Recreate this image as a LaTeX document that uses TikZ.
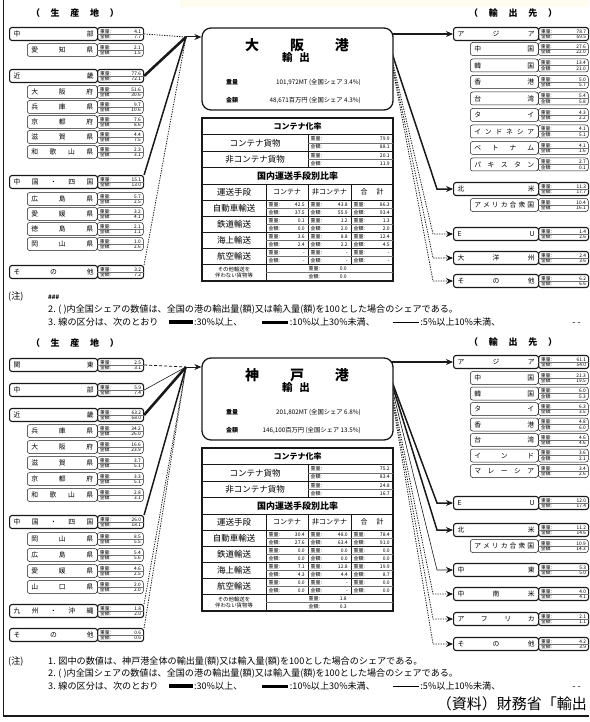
\documentclass[tikz,border=0pt]{standalone}
\usepackage{fontspec}
\setmainfont{Noto Sans CJK JP}
\usetikzlibrary{arrows.meta, positioning, calc}
\definecolor{ink}{RGB}{25,25,25}
\definecolor{rulegray}{RGB}{110,110,110}
\definecolor{paleband}{RGB}{254,252,238}
\tikzset{
  areabox/.style={rectangle, draw=ink, rounded corners=2.5pt, line width=1.1pt,
    minimum height=13pt, inner sep=0pt, font=\fontsize{6.8}{7}\selectfont},
  subbox/.style={areabox, line width=0.5pt},
  valtxt/.style={align=left, font=\fontsize{4.8}{5.6}\selectfont},
  celltxt/.style={inner sep=0pt, font=\fontsize{5}{5}\selectfont},
  rowtxt/.style={inner sep=0pt, font=\fontsize{8.5}{9}\selectfont},
  coltxt/.style={inner sep=0pt, font=\fontsize{7}{7}\selectfont},
  headtxt/.style={inner sep=0pt, font=\fontsize{8}{8}\selectfont\bfseries},
  sidetitle/.style={inner sep=0pt, font=\fontsize{9}{9}\selectfont\bfseries},
  notetxt/.style={inner sep=0pt, anchor=west, font=\fontsize{9.1}{9.5}\selectfont},
  portbox/.style={rectangle, draw=ink, fill=white, rounded corners=9pt,
    line width=1.3pt, minimum width=191pt, minimum height=82pt},
  heavy/.style={line width=2.6pt, color=ink},
  medium/.style={line width=1.5pt, color=ink},
  light/.style={line width=0.6pt, color=ink},
  faint/.style={line width=0.8pt, color=ink, dash pattern=on 1.3pt off 1.2pt},
  dashy/.style={line width=0.8pt, color=ink, dash pattern=on 3pt off 2pt},
  arrowtip/.style={-{Stealth[length=7pt, width=6pt]}},
  gridline/.style={line width=0.6pt, color=ink},
  halfline/.style={line width=0.3pt, color=rulegray}
}
% one area row: label box + share box
\newcommand{\placerow}[9]{%
  \node[#2, anchor=west, minimum width=#4-#3] (#1) at (#3,#6)
    {\hbox to \dimexpr #4pt-#3pt-8pt\relax{#7}};
  \node[#2, valtxt, anchor=west, minimum width=#5-#4] (#1-v) at (#4,#6)
    {\hbox to \dimexpr #5pt-#4pt-5pt\relax{重量:\hfill #8}\\
     \hbox to \dimexpr #5pt-#4pt-5pt\relax{金額:\hfill #9}};
  \draw[halfline] (#1-v.west) -- (#1-v.east);
}
\newcommand{\leftarea}[5]{\placerow{#1}{areabox}{9}{97}{143}{#2}{#3}{#4}{#5}}
\newcommand{\leftsub}[5]{\placerow{#1}{subbox}{27}{97}{143}{#2}{#3}{#4}{#5}}
\newcommand{\rightarea}[5]{\placerow{#1}{areabox}{453}{538}{588}{#2}{#3}{#4}{#5}}
\newcommand{\rightsub}[5]{\placerow{#1}{subbox}{470}{538}{588}{#2}{#3}{#4}{#5}}
% port card in the middle
\newcommand{\portcard}[5]{%
  \node[portbox] (#1) at (297.5,#2) {};
  \node[inner sep=0pt, font=\fontsize{14}{14}\selectfont\bfseries] (#1-name) at (297,#2-24) {\hbox to 104pt{#3}};
  \node[inner sep=0pt, font=\fontsize{10.5}{11}\selectfont\bfseries] (#1-kind) at (296,#2-11) {輸\hspace{7pt}出};
  \node[inner sep=0pt, font=\fontsize{6}{6}\selectfont\bfseries] (#1-wl) at (232,#2+13) {重量};
  \node[inner sep=0pt, font=\fontsize{6.3}{6.5}\selectfont, anchor=east] (#1-wt) at (361,#2+13) {#4};
  \node[inner sep=0pt, font=\fontsize{6}{6}\selectfont\bfseries] (#1-vl) at (232,#2+31) {金額};
  \node[inner sep=0pt, font=\fontsize{6.3}{6.5}\selectfont, anchor=east] (#1-vt) at (361,#2+31) {#5};
}
% two-line share cell of the table
\newcommand{\pairnode}[6]{%
  \node[celltxt, anchor=west] (#1-w) at (#2+2.5,#4+4.2) {\hbox to \dimexpr #3pt-#2pt-6pt\relax{重量:\hfill #5}};
  \node[celltxt, anchor=west] (#1-a) at (#2+2.5,#4+12.2) {\hbox to \dimexpr #3pt-#2pt-6pt\relax{金額:\hfill #6}};
  \draw[halfline] (#2,#4+8.2) -- (#3,#4+8.2);
}
% table frame and headings
\newcommand{\portgrid}[2]{%
  \begin{scope}[shift={(0,#2)}]
    \draw[line width=1.3pt, ink] (202,118) rectangle (393,281);
    \foreach \yy in {134.5,151,184,216,232,248,264}
      \draw[gridline] (202,\yy) -- (393,\yy);
    \draw[line width=1pt, ink] (202,167.5) -- (393,167.5);
    \draw[line width=1pt, ink] (202,200) -- (393,200);
    \draw[gridline] (308,134.5) -- (308,167.5);
    \draw[gridline] (266,184) -- (266,281);
    \foreach \xx in {308,351}
      \draw[gridline] (\xx,184) -- (\xx,264);
    \draw[halfline] (266,272.2) -- (393,272.2);
    \node[headtxt] (#1-rate) at (297.5,126.3) {コンテナ化率};
    \node[rowtxt] (#1-box) at (255,142.8) {コンテナ貨物};
    \node[rowtxt] (#1-bulk) at (255,159.3) {非コンテナ貨物};
    \node[headtxt, font=\fontsize{9}{9}\selectfont\bfseries] (#1-share) at (297.5,175.8) {国内運送手段別比率};
    \node[rowtxt] (#1-mode) at (234,192) {運送手段};
    \node[coltxt] (#1-col1) at (287,192) {コンテナ};
    \node[coltxt] (#1-col2) at (329.5,192) {非コンテナ};
    \node[coltxt] (#1-col3) at (372,192) {合\hspace{9pt}計};
    \node[rowtxt] (#1-truck) at (234,208) {自動車輸送};
    \node[rowtxt] (#1-rail) at (234,224) {鉄道輸送};
    \node[rowtxt] (#1-sea) at (234,240) {海上輸送};
    \node[rowtxt] (#1-air) at (234,256) {航空輸送};
    \node[inner sep=0pt, align=center, font=\fontsize{5.4}{6.6}\selectfont] (#1-none) at (234,272.5) {その他輸送を\\伴わない貨物等};
  \end{scope}
}
\newcommand{\legendbars}{\hspace{10pt}\rule[1pt]{24pt}{4pt}\,:30\%以上、\hspace{20pt}\rule[1.4pt]{26pt}{3pt}\,:10\%以上30\%未満、\hspace{18pt}\rule[2.6pt]{26pt}{0.8pt}\,:5\%以上10\%未満、\hspace{72pt}- -}

\begin{document}
\begin{tikzpicture}[x=1pt, y=-1pt]
  \useasboundingbox (0,0) rectangle (589,722);
  % ── Frame ───────────────────────────────────────────────
  \fill[paleband] (180,0) rectangle (589,7);
  \draw[line width=1.4pt, ink] (3.5,0) -- (3.5,716) -- (589,716);

  % ══ Osaka ═══════════════════════════════════════════════
  \node[sidetitle] (oSrcTitle) at (75,13) {\hbox to 88pt{（\hfill 生\hfill 産\hfill 地\hfill ）}};
  \node[sidetitle] (oDstTitle) at (513,13) {\hbox to 88pt{（\hfill 輸\hfill 出\hfill 先\hfill ）}};

  % origins
  \leftarea{oChubu}{34}{中\hfill 部}{4.1}{7.7}
  \leftsub{oAichi}{50}{愛\hfill 知\hfill 県}{2.1}{1.5}
  \leftarea{oKinki}{76}{近\hfill 畿}{77.6}{72.1}
  \leftsub{oOsakaFu}{92}{大\hfill 阪\hfill 府}{51.6}{30.6}
  \leftsub{oHyogo}{107}{兵\hfill 庫\hfill 県}{9.7}{10.6}
  \leftsub{oKyoto}{122}{京\hfill 都\hfill 府}{7.6}{8.6}
  \leftsub{oShiga}{137}{滋\hfill 賀\hfill 県}{4.4}{7.5}
  \leftsub{oWakayama}{152}{和\hfill 歌\hfill 山\hfill 県}{2.3}{3.1}
  \leftarea{oChugoku}{182}{中\hfill 国\hfill ・\hfill 四\hfill 国}{15.1}{13.0}
  \leftsub{oHiroshima}{199}{広\hfill 島\hfill 県}{5.7}{2.5}
  \leftsub{oEhime}{214}{愛\hfill 媛\hfill 県}{3.2}{4.1}
  \leftsub{oTokushima}{229}{徳\hfill 島\hfill 県}{2.1}{1.1}
  \leftsub{oOkayama}{244}{岡\hfill 山\hfill 県}{1.0}{2.6}
  \leftarea{oOther}{272}{そ\hfill の\hfill 他}{3.2}{7.2}

  % destinations
  \rightarea{dAsia}{34}{ア\hfill ジ\hfill ア}{78.7}{69.5}
  \rightsub{dChina}{49}{中\hfill 国}{27.6}{22.0}
  \rightsub{dKorea}{65.5}{韓\hfill 国}{13.4}{21.0}
  \rightsub{dHongkong}{82}{香\hfill 港}{5.0}{5.7}
  \rightsub{dTaiwan}{98.5}{台\hfill 湾}{5.4}{5.8}
  \rightsub{dThai}{115}{タ\hfill イ}{4.3}{2.2}
  \rightsub{dIndonesia}{131.5}{イ\hfill ン\hfill ド\hfill ネ\hfill シ\hfill ア}{4.1}{5.1}
  \rightsub{dVietnam}{148}{ベ\hfill ト\hfill ナ\hfill ム}{4.1}{1.6}
  \rightsub{dPakistan}{164.5}{パ\hfill キ\hfill ス\hfill タ\hfill ン}{2.7}{0.1}
  \rightarea{dNorthAm}{189}{北\hfill 米}{11.3}{17.7}
  \rightsub{dUSA}{205}{ア\hfill メ\hfill リ\hfill カ\hfill 合\hfill 衆\hfill 国}{10.4}{16.1}
  \rightarea{dEU}{234}{E\hfill U}{1.4}{2.6}
  \rightarea{dOceania}{258}{大\hfill 洋\hfill 州}{2.4}{3.6}
  \rightarea{dOther}{281}{そ\hfill の\hfill 他}{6.2}{6.6}

  % connectors
  \coordinate (osaka-in) at (186,37);
  \coordinate (osaka-out) at (387,38);
  \coordinate (osaka-east) at (387,34);
  \draw[faint] (oChubu-v.east) -- (osaka-in);
  \draw[heavy] (oKinki-v.east) -- (osaka-in);
  \draw[medium] (oChugoku-v.north east) -- (osaka-in);
  \draw[faint] (oOther-v.north east) -- (osaka-in);
  \draw[heavy, arrowtip] (osaka-east) -- (dAsia.west);
  \draw[medium, arrowtip] (osaka-out) -- ([xshift=-16pt]dNorthAm.west) -- (dNorthAm.west);
  \draw[faint, arrowtip] (osaka-out) -- ([xshift=-20pt]dEU.west) -- (dEU.west);
  \draw[faint, arrowtip] (osaka-out) -- ([xshift=-20pt]dOceania.west) -- (dOceania.west);
  \draw[faint, arrowtip] (osaka-out) -- ([xshift=-20pt]dOther.west) -- (dOther.west);

  \portcard{osaka}{69}{大\hfill 阪\hfill 港}{101,972MT (全国シェア 3.4\%)}{48,671百万円 (全国シェア 4.3\%)}
  \draw[light, line width=1pt, arrowtip] (osaka-in) -- (osaka.west |- osaka-in);

  % table
  \portgrid{oTab}{0}
  \pairnode{oBox}{308}{393}{134.5}{79.9}{88.1}
  \pairnode{oBulk}{308}{393}{151}{20.1}{11.9}
  \pairnode{oTruckC}{266}{308}{200}{42.5}{37.5}
  \pairnode{oTruckN}{308}{351}{200}{43.8}{55.9}
  \pairnode{oTruckT}{351}{393}{200}{86.3}{93.4}
  \pairnode{oRailC}{266}{308}{216}{0.1}{0.0}
  \pairnode{oRailN}{308}{351}{216}{1.2}{2.0}
  \pairnode{oRailT}{351}{393}{216}{1.3}{2.0}
  \pairnode{oSeaC}{266}{308}{232}{3.6}{2.4}
  \pairnode{oSeaN}{308}{351}{232}{8.8}{2.2}
  \pairnode{oSeaT}{351}{393}{232}{12.4}{4.5}
  \pairnode{oAirC}{266}{308}{248}{-}{-}
  \pairnode{oAirN}{308}{351}{248}{-}{-}
  \pairnode{oAirT}{351}{393}{248}{-}{-}
  \pairnode{oNone}{306}{350}{264}{0.0}{0.0}

  % notes
  \node[notetxt] (oNoteHead) at (8,297) {(注)};
  \node[notetxt, font=\fontsize{6}{6}\selectfont\bfseries] (oNote1) at (48,297) {\#\#\#};
  \node[notetxt] (oNote2) at (48,310) {2. ( )内全国シェアの数値は、全国の港の輸出量(額)又は輸入量(額)を100とした場合のシェアである。};
  \node[notetxt] (oNote3) at (48,322) {3. 線の区分は、次のとおり\legendbars};

  % ══ Kobe ════════════════════════════════════════════════
  \node[sidetitle] (kSrcTitle) at (75,343) {\hbox to 88pt{（\hfill 生\hfill 産\hfill 地\hfill ）}};
  \node[sidetitle] (kDstTitle) at (513,342) {\hbox to 88pt{（\hfill 輸\hfill 出\hfill 先\hfill ）}};

  % origins
  \leftarea{kKanto}{365}{関\hfill 東}{2.5}{3.1}
  \leftarea{kChubu}{390}{中\hfill 部}{5.9}{7.4}
  \leftarea{kKinki}{415}{近\hfill 畿}{63.2}{68.0}
  \leftsub{kHyogo}{431}{兵\hfill 庫\hfill 県}{34.2}{26.0}
  \leftsub{kOsakaFu}{447}{大\hfill 阪\hfill 府}{16.6}{23.9}
  \leftsub{kShiga}{463}{滋\hfill 賀\hfill 県}{3.7}{5.1}
  \leftsub{kKyoto}{479}{京\hfill 都\hfill 府}{3.3}{5.1}
  \leftsub{kWakayama}{495}{和\hfill 歌\hfill 山\hfill 県}{2.8}{3.1}
  \leftarea{kChugoku}{522}{中\hfill 国\hfill ・\hfill 四\hfill 国}{26.0}{18.1}
  \leftsub{kOkayama}{539}{岡\hfill 山\hfill 県}{8.5}{5.5}
  \leftsub{kHiroshima}{555}{広\hfill 島\hfill 県}{5.4}{5.6}
  \leftsub{kEhime}{571}{愛\hfill 媛\hfill 県}{4.6}{2.5}
  \leftsub{kYamaguchi}{587}{山\hfill 口\hfill 県}{2.0}{2.0}
  \leftarea{kKyushu}{611}{九\hfill 州\hfill ・\hfill 沖\hfill 縄}{1.8}{2.0}
  \leftarea{kOther}{635}{そ\hfill の\hfill 他}{0.6}{0.6}

  % destinations
  \rightarea{eAsia}{362}{ア\hfill ジ\hfill ア}{61.1}{54.0}
  \rightsub{eChina}{378}{中\hfill 国}{21.3}{19.5}
  \rightsub{eKorea}{393.5}{韓\hfill 国}{6.0}{5.3}
  \rightsub{eThai}{409}{タ\hfill イ}{6.3}{3.5}
  \rightsub{eHongkong}{424.5}{香\hfill 港}{4.8}{6.0}
  \rightsub{eTaiwan}{440}{台\hfill 湾}{4.6}{4.6}
  \rightsub{eIndia}{455.5}{イ\hfill ン\hfill ド}{3.6}{2.1}
  \rightsub{eMalaysia}{471}{マ\hfill レ\hfill ー\hfill シ\hfill ア}{3.4}{2.6}
  \rightarea{eEU}{503}{E\hfill U}{12.0}{17.4}
  \rightarea{eNorthAm}{530}{北\hfill 米}{11.2}{14.6}
  \rightsub{eUSA}{546}{ア\hfill メ\hfill リ\hfill カ\hfill 合\hfill 衆\hfill 国}{10.9}{14.3}
  \rightarea{eMidEast}{570}{中\hfill 東}{5.3}{5.0}
  \rightarea{eLatAm}{594}{中\hfill 南\hfill 米}{4.0}{4.1}
  \rightarea{eAfrica}{619}{ア\hfill フ\hfill リ\hfill カ}{2.1}{1.1}
  \rightarea{eOther}{644}{そ\hfill の\hfill 他}{4.2}{3.9}

  % connectors
  \coordinate (kobe-in) at (186,367);
  \coordinate (kobe-out) at (387,368);
  \coordinate (kobe-east) at (387,362);
  \draw[dashy] (kKanto-v.east) -- (kobe-in);
  \draw[light] (kChubu-v.east) -- (kobe-in);
  \draw[heavy] (kKinki-v.east) -- (kobe-in);
  \draw[medium] (kChugoku-v.north east) -- (kobe-in);
  \draw[faint] (kKyushu-v.north east) -- (kobe-in);
  \draw[faint] (kOther-v.north east) -- (kobe-in);
  \draw[heavy, arrowtip] (kobe-east) -- (eAsia.west);
  \draw[medium, arrowtip] (kobe-out) -- ([xshift=-16pt]eEU.west) -- (eEU.west);
  \draw[medium, arrowtip] (kobe-out) -- ([xshift=-16pt]eNorthAm.west) -- (eNorthAm.west);
  \draw[light, arrowtip] (kobe-out) -- ([xshift=-16pt]eMidEast.west) -- (eMidEast.west);
  \draw[faint, arrowtip] (kobe-out) -- ([xshift=-20pt]eLatAm.west) -- (eLatAm.west);
  \draw[faint, arrowtip] (kobe-out) -- ([xshift=-20pt]eAfrica.west) -- (eAfrica.west);
  \draw[faint, arrowtip] (kobe-out) -- ([xshift=-20pt]eOther.west) -- (eOther.west);

  \portcard{kobe}{399}{神\hfill 戸\hfill 港}{201,802MT (全国シェア 6.8\%)}{146,100百万円 (全国シェア 13.5\%)}
  \draw[light, line width=1pt, arrowtip] (kobe-in) -- (kobe.west |- kobe-in);

  % table
  \portgrid{kTab}{330}
  \begin{scope}[shift={(0,330)}]
    \pairnode{kBox}{308}{393}{134.5}{75.2}{83.4}
    \pairnode{kBulk}{308}{393}{151}{24.8}{16.7}
    \pairnode{kTruckC}{266}{308}{200}{30.4}{27.6}
    \pairnode{kTruckN}{308}{351}{200}{48.0}{63.4}
    \pairnode{kTruckT}{351}{393}{200}{78.4}{91.0}
    \pairnode{kRailC}{266}{308}{216}{0.0}{0.0}
    \pairnode{kRailN}{308}{351}{216}{0.0}{0.0}
    \pairnode{kRailT}{351}{393}{216}{0.0}{0.0}
    \pairnode{kSeaC}{266}{308}{232}{7.1}{4.3}
    \pairnode{kSeaN}{308}{351}{232}{12.8}{4.4}
    \pairnode{kSeaT}{351}{393}{232}{19.9}{8.7}
    \pairnode{kAirC}{266}{308}{248}{0.0}{0.0}
    \pairnode{kAirN}{308}{351}{248}{-}{-}
    \pairnode{kAirT}{351}{393}{248}{0.0}{0.0}
    \pairnode{kNone}{306}{350}{264}{1.8}{0.3}
  \end{scope}

  % notes
  \node[notetxt] (kNoteHead) at (8,662) {(注)};
  \node[notetxt] (kNote1) at (48,662) {1. 図中の数値は、神戸港全体の輸出量(額)又は輸入量(額)を100とした場合のシェアである。};
  \node[notetxt] (kNote2) at (48,674) {2. ( )内全国シェアの数値は、全国の港の輸出量(額)又は輸入量(額)を100とした場合のシェアである。};
  \node[notetxt] (kNote3) at (48,686) {3. 線の区分は、次のとおり\legendbars};
  \node[inner sep=0pt, anchor=east, font=\fontsize{15}{15}\selectfont] (kSource) at (587,704) {（資料）財務省「輸出};
\end{tikzpicture}
\end{document}
